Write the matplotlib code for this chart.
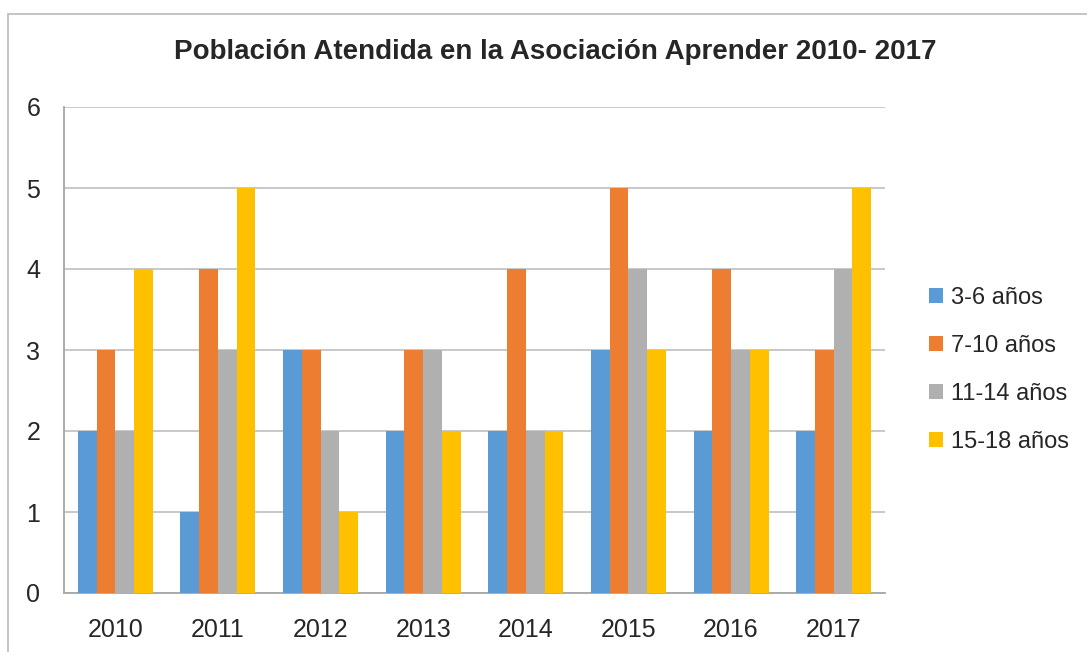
import matplotlib
matplotlib.use("Agg")
import matplotlib.pyplot as plt
import numpy as np
from matplotlib.patches import Rectangle

years = ["2010", "2011", "2012", "2013", "2014", "2015", "2016", "2017"]
series_names = ["3-6 años", "7-10 años", "11-14 años", "15-18 años"]
s_3_6 = [2, 1, 3, 2, 2, 3, 2, 2]
s_7_10 = [3, 4, 3, 3, 4, 5, 4, 3]
s_11_14 = [2, 3, 2, 3, 2, 4, 3, 4]
s_15_18 = [4, 5, 1, 2, 2, 3, 3, 5]
colors = ["#5B9BD5", "#ED7D31", "#B0B0B0", "#FFC000"]

plt.rcParams['font.family'] = ['Liberation Sans', 'DejaVu Sans']

fig = plt.figure(figsize=(10.87, 6.52), dpi=100)
fig.patches.append(Rectangle((8/1087, -0.1), 1.2, (652-14)/652 + 0.1, transform=fig.transFigure,
                             fill=False, edgecolor="#BFBFBF", linewidth=1.3))
ax = fig.add_axes([64/1087, 1-593/652, (885-64)/1087, (593-107)/652])

x = np.arange(len(years))
w = 0.183
data = [s_3_6, s_7_10, s_11_14, s_15_18]
for i, (vals, c, n) in enumerate(zip(data, colors, series_names)):
    ax.bar(x + (i - 1.5) * w, vals, width=w, color=c, label=n, zorder=3)

ax.set_xlim(-0.5, len(years) - 0.5)
ax.set_ylim(0, 6)
ax.set_yticks(range(0, 7))
ax.set_xticks(x)
ax.set_xticklabels(years)
ax.tick_params(axis='both', length=0, labelsize=18, colors="#262626")
ax.tick_params(axis='x', pad=18)
ax.tick_params(axis='y', pad=17)
ax.yaxis.grid(True, color="#BFBFBF", linewidth=1.2, zorder=0)
for s in ["top", "right"]:
    ax.spines[s].set_visible(False)
for s in ["left", "bottom"]:
    ax.spines[s].set_color("#A6A6A6")
    ax.spines[s].set_linewidth(1.3)

fig.text(555/1087, 1-52/652, "Población Atendida en la Asociación Aprender 2010- 2017",
         ha="center", va="center", fontsize=20, fontweight="bold", color="#262626")

leg = ax.legend(loc="center left", bbox_to_anchor=(917/1087, 1-370/652), bbox_transform=fig.transFigure,
                frameon=False, fontsize=17, handlelength=0.6, handleheight=0.6, handletextpad=0.35,
                labelspacing=1.1, borderpad=0)
for t in leg.get_texts():
    t.set_color("#262626")

fig.savefig("out.png", dpi=100)
